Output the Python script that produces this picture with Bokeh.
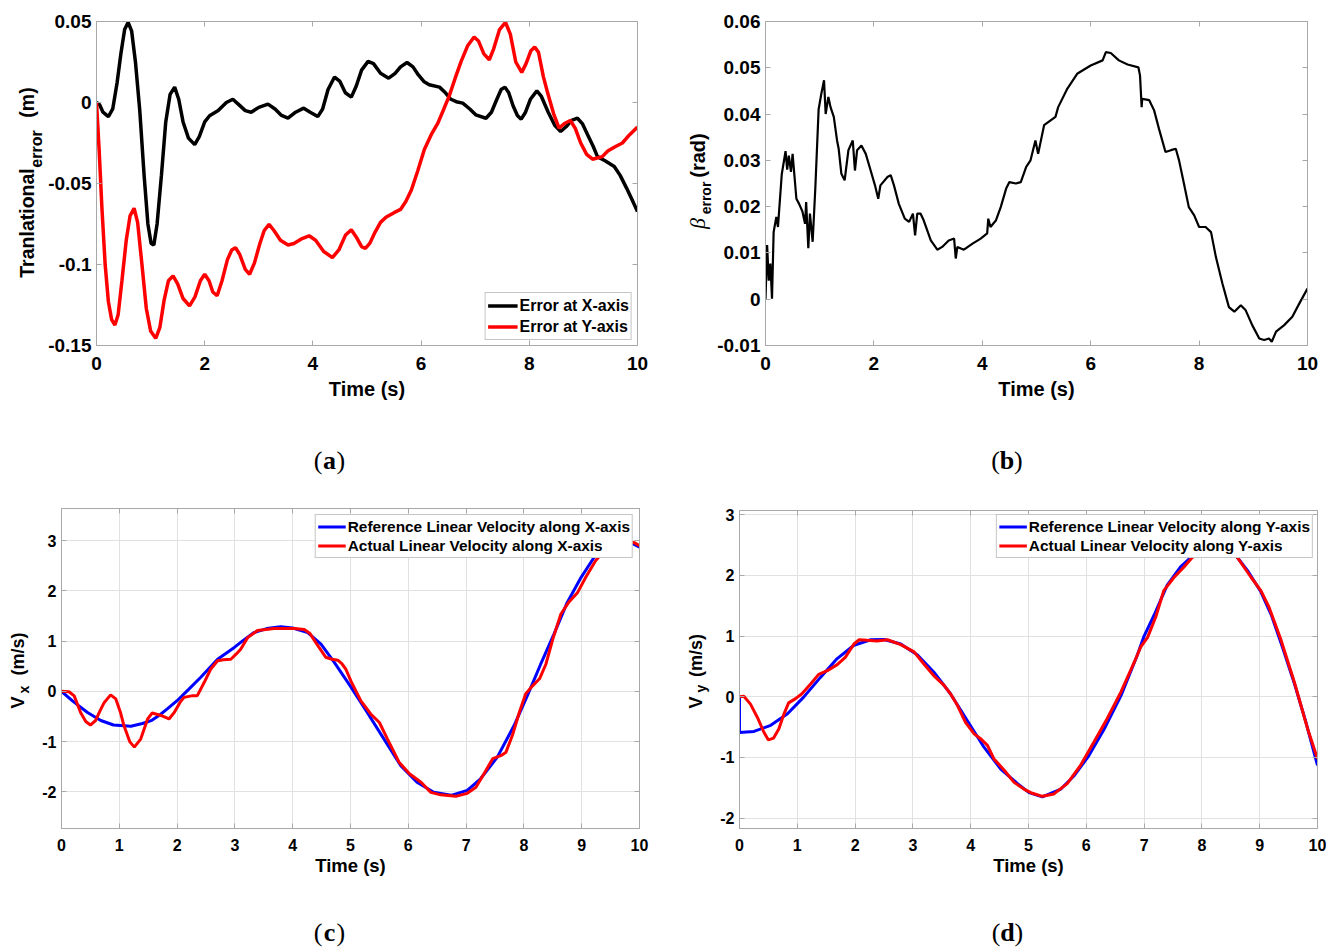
import math

from bokeh.core.properties import value
from bokeh.embed import file_html
from bokeh.layouts import column, row
from bokeh.models import CustomLabelingPolicy, FixedTicker, LinearAxis
from bokeh.plotting import figure
from bokeh.resources import INLINE

# ---------------------------------------------------------------------------
# (a) translational tracking error [m]
# ---------------------------------------------------------------------------
T_ERR_X = [0.00, 0.06, 0.12, 0.22, 0.30, 0.38, 0.45, 0.52, 0.585, 0.65, 0.72, 0.80,
           0.88, 0.95, 1.01, 1.06, 1.12, 1.20, 1.28, 1.36, 1.445, 1.52, 1.60, 1.70,
           1.815, 1.90, 2.00, 2.09, 2.25, 2.40, 2.52, 2.62, 2.75, 2.86, 3.00, 3.17,
           3.30, 3.42, 3.54, 3.68, 3.83, 3.95, 4.09, 4.18, 4.28, 4.40, 4.50, 4.60,
           4.71, 4.80, 4.90, 5.02, 5.12, 5.25, 5.40, 5.52, 5.62, 5.74, 5.85, 5.95,
           6.05, 6.15, 6.34, 6.45, 6.55, 6.65, 6.77, 6.90, 7.01, 7.20, 7.30, 7.40,
           7.48, 7.55, 7.62, 7.70, 7.78, 7.85, 7.93, 8.02, 8.14, 8.22, 8.35, 8.47,
           8.58, 8.68, 8.78, 8.89, 8.98, 9.08, 9.18, 9.26, 9.40, 9.57, 9.68, 9.80,
           9.90, 10.00]
ERR_X = [0.0, -0.0015, -0.006, -0.0087, -0.004, 0.012, 0.030, 0.045, 0.0495, 0.044,
         0.025, -0.005, -0.045, -0.075, -0.087, -0.088, -0.075, -0.045, -0.012, 0.005,
         0.0095, 0.002, -0.012, -0.022, -0.026, -0.021, -0.012, -0.0082, -0.005, 0.0,
         0.002, -0.001, -0.005, -0.006, -0.003, -0.001, -0.004, -0.008, -0.0097, -0.006,
         -0.0035, -0.006, -0.0087, -0.004, 0.008, 0.0157, 0.013, 0.006, 0.0033, 0.010,
         0.020, 0.0254, 0.024, 0.018, 0.0150, 0.018, 0.022, 0.0247, 0.022, 0.017,
         0.013, 0.011, 0.0095, 0.006, 0.002, 0.0005, -0.0004, -0.004, -0.0076, -0.0097,
         -0.006, 0.002, 0.008, 0.0095, 0.006, -0.002, -0.008, -0.0103, -0.006, 0.002,
         0.0072, 0.004, -0.006, -0.014, -0.0179, -0.015, -0.011, -0.0097, -0.013, -0.020,
         -0.027, -0.0334, -0.036, -0.0395, -0.045, -0.053, -0.060, -0.0673]

T_ERR_Y = [0.00, 0.05, 0.10, 0.16, 0.22, 0.28, 0.34, 0.40, 0.47, 0.55, 0.62, 0.695,
           0.76, 0.84, 0.92, 1.00, 1.095, 1.17, 1.25, 1.33, 1.415, 1.50, 1.60, 1.72,
           1.82, 1.92, 2.00, 2.08, 2.15, 2.23, 2.32, 2.42, 2.50, 2.57, 2.65, 2.75,
           2.83, 2.92, 3.02, 3.10, 3.19, 3.28, 3.40, 3.54, 3.65, 3.80, 3.93, 4.05,
           4.20, 4.36, 4.48, 4.60, 4.71, 4.80, 4.90, 4.97, 5.05, 5.15, 5.25, 5.35,
           5.50, 5.62, 5.72, 5.82, 5.94, 6.06, 6.20, 6.31, 6.42, 6.52, 6.63, 6.74,
           6.86, 6.98, 7.06, 7.16, 7.26, 7.34, 7.45, 7.56, 7.65, 7.75, 7.86, 7.94,
           8.03, 8.10, 8.17, 8.26, 8.34, 8.45, 8.55, 8.65, 8.76, 8.85, 8.95, 9.06,
           9.17, 9.35, 9.45, 9.57, 9.72, 9.85, 10.00]
ERR_Y = [0.0, -0.03, -0.065, -0.10, -0.123, -0.134, -0.1374, -0.131, -0.110, -0.085,
         -0.070, -0.0653, -0.074, -0.100, -0.127, -0.141, -0.1456, -0.139, -0.122, -0.110,
         -0.107, -0.112, -0.121, -0.1256, -0.120, -0.110, -0.106, -0.110, -0.117, -0.1193,
         -0.110, -0.097, -0.091, -0.0896, -0.094, -0.103, -0.106, -0.099, -0.087, -0.079,
         -0.0752, -0.079, -0.085, -0.088, -0.087, -0.084, -0.0823, -0.085, -0.092, -0.0957,
         -0.091, -0.082, -0.0786, -0.083, -0.089, -0.090, -0.087, -0.080, -0.074, -0.0708,
         -0.068, -0.066, -0.061, -0.054, -0.042, -0.029, -0.019, -0.0127, -0.004, 0.0041,
         0.015, 0.0254, 0.035, 0.0404, 0.038, 0.030, 0.0264, 0.033, 0.045, 0.0495,
         0.042, 0.025, 0.0186, 0.024, 0.032, 0.0342, 0.031, 0.016, 0.0058, -0.007,
         -0.0158, -0.013, -0.0111, -0.016, -0.025, -0.032, -0.035, -0.0334, -0.030, -0.0276,
         -0.025, -0.020, -0.0152]

ERR_TICKS = [-0.15, -0.1, -0.05, 0, 0.05]
ERR_LABELS = ["-0.15", "-0.1", "-0.05", "0", "0.05"]

# ---------------------------------------------------------------------------
# (b) heading error beta [rad]
# ---------------------------------------------------------------------------
T_BETA = [0.00, 0.03, 0.06, 0.09, 0.12, 0.15, 0.20, 0.23, 0.30, 0.37, 0.40, 0.43,
          0.47, 0.50, 0.57, 0.62, 0.68, 0.73, 0.75, 0.79, 0.82, 0.87, 0.92, 0.98,
          1.03, 1.08, 1.11, 1.16, 1.20, 1.26, 1.32, 1.35, 1.40, 1.46, 1.53, 1.61,
          1.65, 1.69, 1.77, 1.85, 1.94, 2.02, 2.08, 2.12, 2.25, 2.31, 2.37, 2.46,
          2.57, 2.65, 2.72, 2.76, 2.80, 2.86, 2.92, 3.05, 3.17, 3.26, 3.38, 3.48,
          3.51, 3.54, 3.66, 3.82, 3.97, 4.09, 4.11, 4.15, 4.25, 4.34, 4.44, 4.50,
          4.62, 4.71, 4.81, 4.89, 4.98, 5.03, 5.14, 5.35, 5.40, 5.57, 5.75, 6.00,
          6.22, 6.28, 6.37, 6.52, 6.68, 6.88, 6.91, 6.94, 6.95, 7.08, 7.17, 7.26,
          7.38, 7.48, 7.57, 7.63, 7.72, 7.81, 7.91, 8.00, 8.12, 8.22, 8.31, 8.43,
          8.55, 8.65, 8.77, 8.86, 8.98, 9.11, 9.20, 9.29, 9.34, 9.42, 9.57, 9.72,
          9.85, 10.00]
BETA = [0.0, 0.0117, 0.004, 0.0077, 0.0001, 0.0145, 0.0178, 0.0156, 0.027, 0.032,
        0.028, 0.031, 0.0275, 0.0314, 0.0217, 0.0206, 0.019, 0.0163, 0.021, 0.011,
        0.0185, 0.0124, 0.0242, 0.041, 0.0444, 0.0473, 0.040, 0.0437, 0.0415, 0.0394,
        0.0343, 0.0325, 0.0271, 0.0257, 0.0322, 0.0343, 0.0278, 0.0322, 0.0332, 0.0314,
        0.0278, 0.0246, 0.0217, 0.0246, 0.0264, 0.0268, 0.0246, 0.0206, 0.0174, 0.0167,
        0.0185, 0.0138, 0.0185, 0.0185, 0.017, 0.0127, 0.0107, 0.0113, 0.0127, 0.0131,
        0.0088, 0.0113, 0.0107, 0.012, 0.0131, 0.0142, 0.0174, 0.0156, 0.017, 0.0199,
        0.0239, 0.0253, 0.025, 0.0253, 0.0286, 0.0300, 0.0343, 0.0314, 0.0376, 0.0394,
        0.0415, 0.0455, 0.0487, 0.0505, 0.0516, 0.0534, 0.0532, 0.0516, 0.0507, 0.0501,
        0.0483, 0.0415, 0.0433, 0.043, 0.0408, 0.0368, 0.0318, 0.0322, 0.0325, 0.030,
        0.025, 0.0199, 0.0181, 0.0156, 0.0156, 0.0145, 0.0091, 0.0034, -0.0017, -0.0027,
        -0.0013, -0.0024, -0.0056, -0.0085, -0.0088, -0.0085, -0.0092, -0.007, -0.0056, -0.0038,
        -0.0009, 0.0023]

BETA_TICKS = [-0.01, 0, 0.01, 0.02, 0.03, 0.04, 0.05, 0.06]
BETA_LABELS = ["-0.01", "0", "0.01", "0.02", "0.03", "0.04", "0.05", "0.06"]

# ---------------------------------------------------------------------------
# (c) linear velocity along X [m/s]
# ---------------------------------------------------------------------------
T_VX_REF = [0.0, 0.2, 0.45, 0.68, 0.9, 1.2, 1.4, 1.55, 1.7, 1.83, 2.0, 2.2, 2.41,
            2.7, 2.99, 3.15, 3.33, 3.55, 3.79, 4.0, 4.26, 4.49, 4.72, 5.0, 5.29,
            5.58, 5.87, 6.15, 6.44, 6.74, 7.02, 7.25, 7.54, 7.83, 8.06, 8.29, 8.52,
            8.75, 8.99, 9.21, 9.45, 9.68, 9.85, 10.0]
VX_REF = [0.0, -0.2, -0.42, -0.58, -0.67, -0.696, -0.64, -0.583, -0.47, -0.35,
          -0.186, 0.04, 0.28, 0.64, 0.875, 1.02, 1.17, 1.25, 1.285, 1.26, 1.17, 0.94,
          0.576, 0.1, -0.42, -0.95, -1.48, -1.81, -2.01, -2.07, -1.97, -1.74, -1.31,
          -0.68, -0.086, 0.54, 1.14, 1.77, 2.27, 2.66, 2.91, 3.02, 2.96, 2.87]

T_VX_ACT = [0.0, 0.13, 0.22, 0.33, 0.42, 0.5, 0.59, 0.67, 0.74, 0.85, 0.94, 1.02,
            1.08, 1.18, 1.26, 1.37, 1.49, 1.57, 1.72, 1.86, 1.95, 2.05, 2.12, 2.27,
            2.35, 2.47, 2.58, 2.7, 2.8, 2.93, 3.02, 3.1, 3.22, 3.39, 3.68, 4.03, 4.2,
            4.3, 4.4, 4.5, 4.57, 4.68, 4.78, 4.85, 4.92, 5.01, 5.18, 5.35, 5.5, 5.64,
            5.84, 6.02, 6.22, 6.39, 6.56, 6.82, 7.02, 7.17, 7.31, 7.46, 7.6, 7.69,
            7.8, 7.92, 8.03, 8.15, 8.27, 8.38, 8.5, 8.64, 8.78, 8.93, 9.07, 9.24,
            9.39, 9.6, 9.75, 9.91, 10.0]
VX_ACT = [0.0, -0.007, -0.09, -0.42, -0.6, -0.67, -0.58, -0.38, -0.22, -0.07, -0.15,
          -0.42, -0.68, -1.0, -1.11, -0.95, -0.55, -0.43, -0.48, -0.55, -0.42, -0.22,
          -0.12, -0.085, -0.085, 0.18, 0.44, 0.61, 0.63, 0.64, 0.74, 0.84, 1.07, 1.21,
          1.25, 1.25, 1.23, 1.15, 0.97, 0.8, 0.68, 0.64, 0.62, 0.55, 0.44, 0.2, -0.19,
          -0.45, -0.62, -0.95, -1.41, -1.64, -1.81, -2.01, -2.06, -2.09, -2.03, -1.91,
          -1.64, -1.34, -1.28, -1.21, -0.88, -0.42, -0.05, 0.11, 0.25, 0.54, 1.04, 1.54,
          1.78, 1.97, 2.27, 2.6, 2.8, 2.97, 3.0, 2.96, 2.9]

# ---------------------------------------------------------------------------
# (d) linear velocity along Y [m/s]
# ---------------------------------------------------------------------------
T_VY_REF = [0.0, 0.0, 0.25, 0.54, 0.83, 1.11, 1.4, 1.69, 1.98, 2.27, 2.5, 2.79,
            3.08, 3.36, 3.65, 3.94, 4.23, 4.52, 4.81, 5.01, 5.24, 5.56, 5.79, 6.03,
            6.31, 6.6, 6.88, 7.0, 7.17, 7.4, 7.63, 7.81, 8.0, 8.2, 8.4, 8.61, 8.79,
            9.02, 9.2, 9.4, 9.6, 9.8, 10.0]
VY_REF = [0.0, -0.59, -0.57, -0.47, -0.28, -0.005, 0.32, 0.63, 0.85, 0.94, 0.945,
          0.87, 0.69, 0.41, 0.05, -0.39, -0.83, -1.19, -1.43, -1.58, -1.65, -1.52,
          -1.30, -0.99, -0.53, 0.02, 0.68, 1.0, 1.34, 1.84, 2.14, 2.3, 2.5, 2.58, 2.5,
          2.3, 2.08, 1.73, 1.35, 0.8, 0.22, -0.42, -1.13]

T_VY_ACT = [0.0, 0.075, 0.19, 0.31, 0.42, 0.5, 0.59, 0.68, 0.77, 0.85, 0.97, 1.08,
            1.23, 1.37, 1.52, 1.69, 1.83, 1.98, 2.07, 2.21, 2.38, 2.56, 2.79, 3.02,
            3.19, 3.36, 3.54, 3.65, 3.77, 3.91, 4.06, 4.17, 4.29, 4.4, 4.58, 4.75,
            4.92, 5.04, 5.24, 5.44, 5.67, 5.9, 6.13, 6.36, 6.6, 6.83, 6.94, 7.06, 7.2,
            7.34, 7.52, 7.69, 7.81, 8.0, 8.2, 8.4, 8.61, 8.85, 9.02, 9.16, 9.36, 9.6,
            9.83, 10.0]
VY_ACT = [0.0, 0.01, -0.12, -0.34, -0.58, -0.71, -0.68, -0.53, -0.28, -0.1, -0.03,
          0.05, 0.21, 0.37, 0.43, 0.53, 0.65, 0.87, 0.94, 0.93, 0.92, 0.94, 0.86, 0.74,
          0.54, 0.35, 0.19, 0.05, -0.14, -0.42, -0.61, -0.69, -0.8, -1.02, -1.21, -1.41,
          -1.52, -1.58, -1.64, -1.6, -1.43, -1.13, -0.75, -0.36, 0.08, 0.57, 0.82, 0.98,
          1.31, 1.75, 1.97, 2.14, 2.27, 2.45, 2.55, 2.5, 2.3, 1.97, 1.75, 1.48, 0.96,
          0.24, -0.53, -1.02]

VEL_TICKS = [-2, -1, 0, 1, 2, 3]
VEL_LABELS = ["-2", "-1", "0", "1", "2", "3"]

TIME_TICKS_2 = [0, 2, 4, 6, 8, 10]
TIME_LABELS_2 = ["0", "2", "4", "6", "8", "10"]
TIME_TICKS_1 = [0, 1, 2, 3, 4, 5, 6, 7, 8, 9, 10]
TIME_LABELS_1 = ["0", "1", "2", "3", "4", "5", "6", "7", "8", "9", "10"]

# ---------------------------------------------------------------------------
# styling
# ---------------------------------------------------------------------------
SANS = "Liberation Sans"
SERIF = "Liberation Serif"
FRAME = "#a8a8a8"
GRID = "#e1e1e1"

# mirror axes on top/right carry tick marks only
NO_LABELS = CustomLabelingPolicy(
    code="for (let i = 0; i < indices.size; i++) { indices.unset(i) }\nreturn indices")


def make_panel(width, height, borders, x_range, y_range, xticks, xlabels,
               yticks, ylabels, tick_px, label_px, tick_standoff, label_standoff,
               grid=False):
    left, right, top, bottom = borders
    p = figure(width=width, height=height, x_range=x_range, y_range=y_range,
               output_backend="svg", toolbar_location=None,
               min_border_left=left, min_border_right=right,
               min_border_top=top, min_border_bottom=bottom)
    p.outline_line_color = FRAME
    p.background_fill_color = "white"
    p.border_fill_color = "white"

    xt = FixedTicker(ticks=xticks)
    yt = FixedTicker(ticks=yticks)
    xax = p.below[0]
    yax = p.left[0]
    xax.ticker = xt
    yax.ticker = yt
    xax.major_label_overrides = dict(zip(xticks, xlabels))
    yax.major_label_overrides = dict(zip(yticks, ylabels))
    for ax in (xax, yax):
        ax.axis_line_color = FRAME
        ax.major_tick_line_color = FRAME
        ax.major_tick_in = 5
        ax.major_tick_out = 0
        ax.minor_tick_line_color = None
        ax.major_label_text_font = SANS
        ax.major_label_text_font_style = "bold"
        ax.major_label_text_font_size = tick_px
        ax.major_label_text_color = "black"
    xax.major_label_standoff = tick_standoff
    yax.major_label_standoff = 5
    xax.axis_label = "Time (s)"
    xax.axis_label_text_font = SANS
    xax.axis_label_text_font_style = "bold"
    xax.axis_label_text_font_size = label_px
    xax.axis_label_text_color = "black"
    xax.axis_label_standoff = label_standoff

    for loc, ticker in (("above", xt), ("right", yt)):
        ax = LinearAxis(ticker=ticker, axis_line_color=FRAME,
                        major_tick_line_color=FRAME, major_tick_in=5,
                        major_tick_out=0, minor_tick_line_color=None,
                        major_label_policy=NO_LABELS, major_label_standoff=0,
                        major_label_text_font_size="0px")
        p.add_layout(ax, loc)

    if grid:
        p.xgrid.grid_line_color = GRID
        p.ygrid.grid_line_color = GRID
    else:
        p.xgrid.visible = False
        p.ygrid.visible = False
    return p


def style_legend(p, location, margin, font_px, row_px, glyph_w):
    lg = p.legend[0]
    lg.location = location
    lg.margin = margin
    lg.padding = 2
    lg.spacing = 0
    lg.glyph_width = glyph_w
    lg.glyph_height = row_px
    lg.label_height = row_px
    lg.label_standoff = 2
    lg.label_text_font = SANS
    lg.label_text_font_style = "bold"
    lg.label_text_font_size = font_px
    lg.label_text_color = "black"
    lg.border_line_color = "#8c8c8c"
    lg.border_line_width = 1
    lg.background_fill_color = "white"
    lg.background_fill_alpha = 1.0


def strip(width, height, frame_top=0, frame_bottom=0):
    """Blank canvas whose data units are pixels measured up from its bottom edge.

    When it sits in a row next to a panel, its drawing area lines up with
    that panel's frame, so the y range covers just that frame band.
    """
    s = figure(width=width, height=height, x_range=(0, width),
               y_range=(frame_bottom, height - frame_top),
               output_backend="svg", toolbar_location=None, min_border=0,
               x_axis_type=None, y_axis_type=None)
    s.outline_line_color = None
    s.background_fill_color = "white"
    s.border_fill_color = "white"
    return s


def vtext(s, text, cx, cy, size, style="bold", font=SANS):
    """Upward-reading text centred on (cx, cy)."""
    s.text(x=[cx], y=[cy], text=[text], angle=math.pi / 2,
           text_font=value(font), text_font_size=value(size),
           text_font_style=value(style), text_align=value("center"),
           text_baseline=value("middle"), text_color="black")


def caption(s, letter, cx, cy):
    common = dict(text_font=value(SERIF), text_font_size=value("26px"),
                  text_baseline=value("middle"), text_color="black")
    s.text(x=[cx - 7], y=[cy], text=["("], text_align=value("right"),
           text_font_style=value("normal"), **common)
    s.text(x=[cx], y=[cy], text=[letter], text_align=value("center"),
           text_font_style=value("bold"), **common)
    s.text(x=[cx + 7], y=[cy], text=[")"], text_align=value("left"),
           text_font_style=value("normal"), **common)


# ---------------------------------------------------------------------------
# (a)
# ---------------------------------------------------------------------------
pa = make_panel(615, 420, (50, 23, 21, 75), (0, 10), (-0.15, 0.05),
                TIME_TICKS_2, TIME_LABELS_2, ERR_TICKS, ERR_LABELS,
                "19px", "20px", 11, 5)
pa.line(T_ERR_X, ERR_X, line_color="black", line_width=3.5,
        legend_label="Error at X-axis")
pa.line(T_ERR_Y, ERR_Y, line_color="#ff0000", line_width=3.5,
        legend_label="Error at Y-axis")
style_legend(pa, "bottom_right", 5, "16px", 21, 30)

sa = strip(45, 420, 21, 75)
vtext(sa, "Tranlational", 26.3, 197.5, "19.5px")
vtext(sa, "error", 35.5, 271.5, "16px")
vtext(sa, "(m)", 26.3, 318, "19.5px")
ca = strip(660, 70)
caption(ca, "a", 329, 30.5)

# ---------------------------------------------------------------------------
# (b)
# ---------------------------------------------------------------------------
pb = make_panel(619, 420, (51, 26, 21, 75), (0, 10), (-0.01, 0.06),
                TIME_TICKS_2, TIME_LABELS_2, BETA_TICKS, BETA_LABELS,
                "19px", "20px", 11, 5)
pb.line(T_BETA, BETA, line_color="black", line_width=2.2)

sb = strip(54, 420, 21, 75)
vtext(sb, "\u03b2", 36.6, 197, "22px", style="italic", font=SERIF)
vtext(sb, "error", 45, 222.5, "14px")
vtext(sb, "(rad)", 37, 265, "20px")
cb = strip(673, 70)
caption(cb, "b", 346.5, 30.5)

# ---------------------------------------------------------------------------
# (c)
# ---------------------------------------------------------------------------
pc = make_panel(627, 395, (28, 21, 18, 57), (0, 10), (-2.73, 3.64),
                TIME_TICKS_1, TIME_LABELS_1, VEL_TICKS, VEL_LABELS,
                "16px", "18.5px", 10, 1, grid=True)
pc.line(T_VX_REF, VX_REF, line_color="#0000ff", line_width=3,
        legend_label="Reference Linear Velocity along X-axis")
pc.line(T_VX_ACT, VX_ACT, line_color="#ff0000", line_width=3,
        legend_label="Actual Linear Velocity along X-axis")
style_legend(pc, "top_right", 6, "15.4px", 19, 28)

sc = strip(33, 395, 18, 57)
vtext(sc, "V", 17.8, 183, "18px")
vtext(sc, "x", 23, 196, "14px")
vtext(sc, "(m/s)", 17.8, 231.5, "18px")
cc = strip(660, 62)
caption(cc, "c", 329, 15)

# ---------------------------------------------------------------------------
# (d)
# ---------------------------------------------------------------------------
pd = make_panel(621, 395, (27, 16, 20, 57), (0, 10), (-2.17, 3.07),
                TIME_TICKS_1, TIME_LABELS_1, VEL_TICKS, VEL_LABELS,
                "16px", "18.5px", 10, 1, grid=True)
pd.line(T_VY_REF, VY_REF, line_color="#0000ff", line_width=3,
        legend_label="Reference Linear Velocity along Y-axis")
pd.line(T_VY_ACT, VY_ACT, line_color="#ff0000", line_width=3,
        legend_label="Actual Linear Velocity along Y-axis")
style_legend(pd, "top_right", 4, "15.4px", 19, 28)

sd = strip(52, 395, 20, 57)
vtext(sd, "V", 35.8, 183, "18px")
vtext(sd, "y", 40.2, 197, "14px")
vtext(sd, "(m/s)", 35.8, 230, "18px")
cd = strip(673, 62)
caption(cd, "d", 347, 15)

layout = row(
    column(row(sa, pa), ca, row(sc, pc), cc),
    column(row(sb, pb), cb, row(sd, pd), cd),
)

with open("out.html", "w") as f:
    f.write(file_html(layout, INLINE))
